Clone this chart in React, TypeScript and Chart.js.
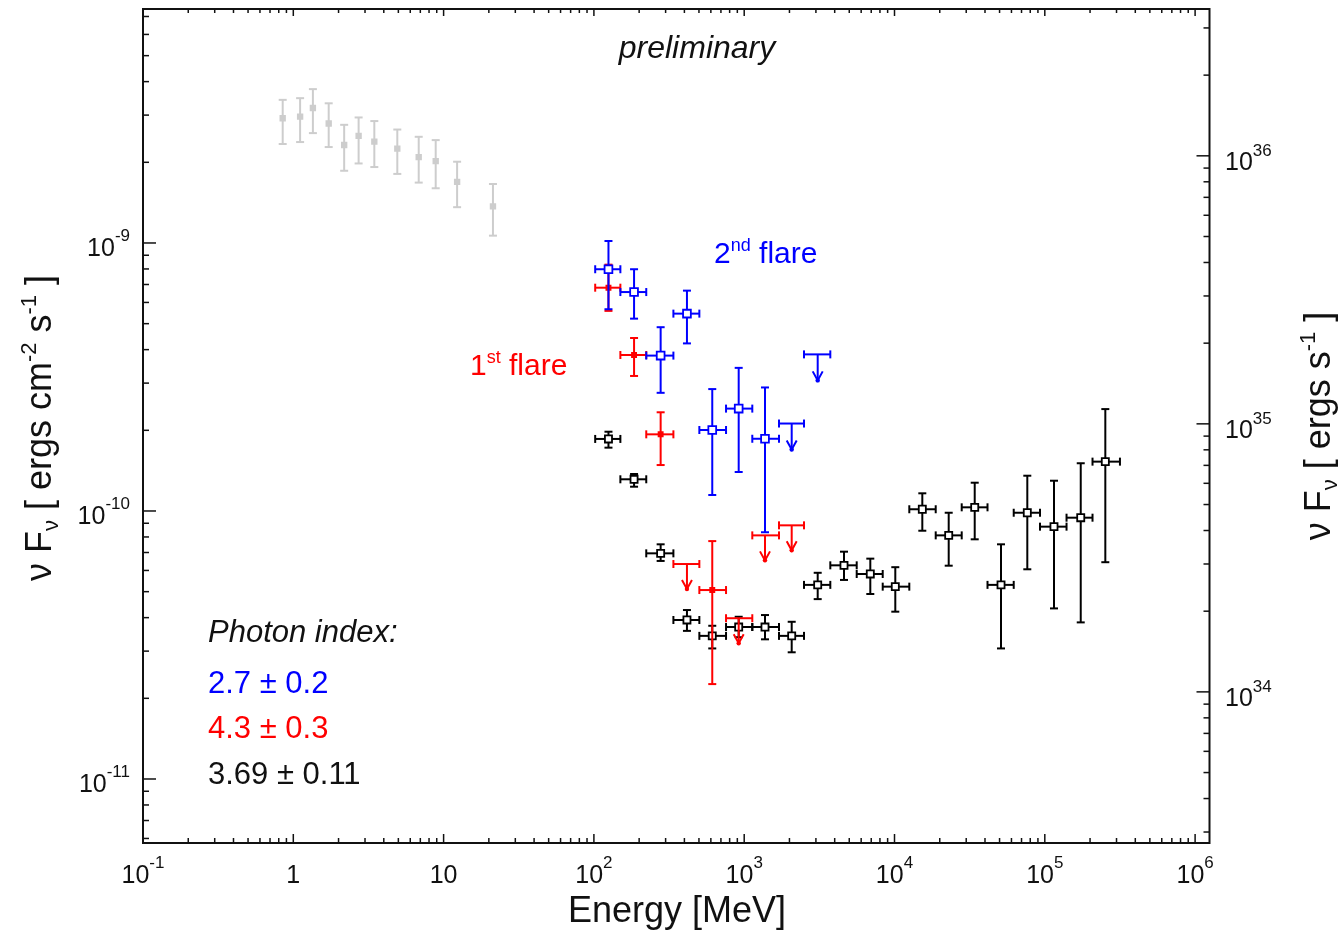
import React, { useEffect, useRef } from 'react';
import { Chart, registerables } from 'chart.js';

Chart.register(...registerables);

const FONT = "'Liberation Sans', Arial, Helvetica, sans-serif";

// ---- axis ranges (values) ----
const xRange = [0.1, 1.2467e6];
const yRange = [5.77e-12, 7.465e-9];
const y2Range = [2.73e33, 3.53e36];

// ---- tick label exponents ----
const xTickExps = [-1, 0, 1, 2, 3, 4, 5, 6];
const yTickExps = [-11, -10, -9];
const y2TickExps = [34, 35, 36];

// ---- energy bins (MeV) ----
const binEdges = [102, 150, 223, 338, 503, 757, 1132, 1704, 2500, 3740, 5604, 8347, 12544, 18800, 28000, 41570, 62110, 92920, 139500, 207700, 316200];
const binCenters = [125, 185, 278, 416, 613, 919, 1375, 2070, 3083, 4613, 6902, 10122, 15311, 22940, 34170, 51130, 76480, 115100, 173400, 252700];

// ---- low-energy (gray) points ----
const grayEnergy = [0.85, 1.11, 1.35, 1.72, 2.18, 2.72, 3.46, 4.92, 6.83, 8.86, 12.3, 21.3];
const grayFlux = [2.92e-9, 2.96e-9, 3.19e-9, 2.79e-9, 2.32e-9, 2.51e-9, 2.39e-9, 2.25e-9, 2.09e-9, 2.02e-9, 1.69e-9, 1.37e-9];
const grayHi = [3.42e-9, 3.47e-9, 3.75e-9, 3.32e-9, 2.76e-9, 2.94e-9, 2.85e-9, 2.65e-9, 2.49e-9, 2.42e-9, 2.01e-9, 1.66e-9];
const grayLo = [2.34e-9, 2.38e-9, 2.57e-9, 2.28e-9, 1.86e-9, 1.98e-9, 1.92e-9, 1.81e-9, 1.68e-9, 1.6e-9, 1.36e-9, 1.065e-9];

// ---- quiescent (black) points ----
const blackBins = [0, 1, 2, 3, 4, 5, 6, 7, 8, 9, 10, 11, 12, 13, 14, 15, 16, 17, 18, 19];
const blackFlux = [1.857e-10, 1.313e-10, 6.95e-11, 3.92e-11, 3.42e-11, 3.69e-11, 3.69e-11, 3.42e-11, 5.3e-11, 6.27e-11, 5.82e-11, 5.22e-11, 1.015e-10, 8.11e-11, 1.032e-10, 5.3e-11, 9.85e-11, 8.74e-11, 9.44e-11, 1.528e-10];
const blackHi = [1.976e-10, 1.374e-10, 7.51e-11, 4.27e-11, 3.73e-11, 4.03e-11, 4.09e-11, 3.86e-11, 5.88e-11, 7.05e-11, 6.64e-11, 6.17e-11, 1.164e-10, 9.85e-11, 1.275e-10, 7.51e-11, 1.354e-10, 1.297e-10, 1.507e-10, 2.4e-10];
const blackLo = [1.723e-10, 1.232e-10, 6.51e-11, 3.57e-11, 3.07e-11, 3.38e-11, 3.32e-11, 2.97e-11, 4.69e-11, 5.53e-11, 4.9e-11, 4.21e-11, 8.44e-11, 6.25e-11, 7.84e-11, 3.07e-11, 6.06e-11, 4.33e-11, 3.84e-11, 6.44e-11];

// ---- 2nd flare (blue) ----
const blueBins = [0, 1, 2, 3, 4, 5, 6];
const blueFlux = [7.98e-10, 6.56e-10, 3.8e-10, 5.45e-10, 2.005e-10, 2.41e-10, 1.86e-10];
const blueHi = [1.017e-9, 7.98e-10, 4.85e-10, 6.64e-10, 2.85e-10, 3.42e-10, 2.89e-10];
const blueLo = [5.66e-10, 5.22e-10, 2.76e-10, 4.22e-10, 1.147e-10, 1.398e-10, 8.33e-11];
const blueULBins = [7, 8];
const blueUL = [2.12e-10, 3.84e-10];

// ---- 1st flare (red) ----
const redBins = [0, 1, 2, 4];
const redFlux = [6.81e-10, 3.82e-10, 1.932e-10, 5.07e-11];
const redHi = [8.3e-10, 4.42e-10, 2.335e-10, 7.72e-11];
const redLo = [5.58e-10, 3.19e-10, 1.484e-10, 2.26e-11];
const redULBins = [3, 5, 6, 7];
const redUL = [6.34e-11, 3.98e-11, 8.11e-11, 8.84e-11];

const BLUE = '#0000ff';
const RED = '#ff0000';
const GRAY = '#cdcdcd';
const BLACK = '#000000';

function binned(bins: number[], flux: number[], lo?: number[], hi?: number[]) {
  return bins.map((b, i) => ({
    x: binCenters[b],
    y: flux[i],
    xLo: binEdges[b],
    xHi: binEdges[b + 1],
    yLo: lo ? lo[i] : undefined,
    yHi: hi ? hi[i] : undefined,
  }));
}

type Seg = { t: string; size: number; rise?: number; italic?: boolean };

function segFont(s: Seg) {
  return `${s.italic ? 'italic ' : ''}${s.size}px ${FONT}`;
}
function richWidth(ctx: CanvasRenderingContext2D, segs: Seg[]) {
  let w = 0;
  for (const s of segs) {
    ctx.font = segFont(s);
    w += ctx.measureText(s.t).width;
  }
  return w;
}
function drawRich(ctx: CanvasRenderingContext2D, segs: Seg[], x: number, y: number, align: 'left' | 'center' | 'right', color: string) {
  const w = richWidth(ctx, segs);
  let cx = align === 'left' ? x : align === 'center' ? x - w / 2 : x - w;
  ctx.fillStyle = color;
  ctx.textAlign = 'left';
  ctx.textBaseline = 'alphabetic';
  for (const s of segs) {
    ctx.font = segFont(s);
    ctx.fillText(s.t, cx, y - (s.rise || 0));
    cx += ctx.measureText(s.t).width;
  }
}

function logTicks(min: number, max: number) {
  const out: { v: number; major: boolean }[] = [];
  const e0 = Math.floor(Math.log10(min));
  const e1 = Math.ceil(Math.log10(max));
  for (let e = e0; e <= e1; e++) {
    for (let m = 1; m <= 9; m++) {
      const v = m * Math.pow(10, e);
      if (v >= min * 0.9999 && v <= max * 1.0001) out.push({ v, major: m === 1 });
    }
  }
  return out;
}

const errorBarPlugin = {
  id: 'errorBars',
  beforeDatasetDraw(chart: any, args: any) {
    const ds: any = chart.data.datasets[args.index];
    if (!ds.errColor) return;
    const ctx: CanvasRenderingContext2D = chart.ctx;
    const xs = chart.scales.x;
    const ys = chart.scales.y;
    ctx.save();
    ctx.strokeStyle = ds.errColor;
    ctx.fillStyle = ds.errColor;
    ctx.lineWidth = ds.errWidth;
    ctx.lineCap = 'butt';
    const c = ds.capHalf;
    const line = (x1: number, y1: number, x2: number, y2: number) => {
      ctx.beginPath();
      ctx.moveTo(x1, y1);
      ctx.lineTo(x2, y2);
      ctx.stroke();
    };
    for (const d of ds.data) {
      const px = xs.getPixelForValue(d.x);
      const py = ys.getPixelForValue(d.y);
      if (d.xLo != null) {
        const l = xs.getPixelForValue(d.xLo);
        const r = xs.getPixelForValue(d.xHi);
        line(l, py, r, py);
        line(l, py - c, l, py + c);
        line(r, py - c, r, py + c);
      }
      if (ds.upperLimit) {
        const tip = py + ds.arrowLen;
        line(px, py, px, tip);
        ctx.beginPath();
        ctx.moveTo(px - 5, tip - 9);
        ctx.lineTo(px, tip);
        ctx.lineTo(px + 5, tip - 9);
        ctx.stroke();
        ctx.beginPath();
        ctx.arc(px, tip, 2.2, 0, Math.PI * 2);
        ctx.fill();
      } else if (d.yLo != null) {
        const t = ys.getPixelForValue(d.yHi);
        const b = ys.getPixelForValue(d.yLo);
        line(px, t, px, b);
        line(px - c, t, px + c, t);
        line(px - c, b, px + c, b);
      }
    }
    ctx.restore();
  },
};

const axesPlugin = {
  id: 'customAxes',
  afterDraw(chart: any) {
    const ctx: CanvasRenderingContext2D = chart.ctx;
    const { left, right, top, bottom } = chart.chartArea;
    const xs = chart.scales.x;
    const ys = chart.scales.y;
    const y2 = chart.scales.y2;
    ctx.save();
    ctx.strokeStyle = '#111';
    ctx.lineWidth = 1.5;
    const line = (x1: number, y1: number, x2: number, y2_: number) => {
      ctx.beginPath();
      ctx.moveTo(x1, y1);
      ctx.lineTo(x2, y2_);
      ctx.stroke();
    };
    for (const t of logTicks(xRange[0], xRange[1])) {
      const p = xs.getPixelForValue(t.v);
      line(p, bottom, p, bottom - (t.major ? 9 : 5));
      line(p, top, p, top + (t.major ? 7 : 4));
    }
    for (const t of logTicks(yRange[0], yRange[1])) {
      const p = ys.getPixelForValue(t.v);
      line(left, p, left + (t.major ? 13 : 6), p);
    }
    for (const t of logTicks(y2Range[0], y2Range[1])) {
      const p = y2.getPixelForValue(t.v);
      line(right, p, right - (t.major ? 13 : 6), p);
    }
    ctx.lineWidth = 2;
    ctx.strokeRect(left, top, right - left, bottom - top);

    const BASE = 25;
    const SUP = 17;
    const TXT = '#111';
    for (const e of xTickExps) {
      const p = xs.getPixelForValue(Math.pow(10, e));
      if (e === 0 || e === 1) {
        drawRich(ctx, [{ t: e === 0 ? '1' : '10', size: BASE }], p, 883, 'center', TXT);
      } else {
        drawRich(ctx, [{ t: '10', size: BASE }, { t: String(e), size: SUP, rise: 15 }], p, 883, 'center', TXT);
      }
    }
    for (const e of yTickExps) {
      const p = ys.getPixelForValue(Math.pow(10, e));
      drawRich(ctx, [{ t: '10', size: BASE }, { t: String(e), size: SUP, rise: 15 }], 130, p + 13, 'right', TXT);
    }
    for (const e of y2TickExps) {
      const p = y2.getPixelForValue(Math.pow(10, e));
      drawRich(ctx, [{ t: '10', size: BASE }, { t: String(e), size: SUP, rise: 14 }], 1225, p + 14, 'left', TXT);
    }

    drawRich(ctx, [{ t: 'Energy [MeV]', size: 36 }], 677, 922, 'center', TXT);

    ctx.save();
    ctx.translate(51, 428);
    ctx.rotate(-Math.PI / 2);
    drawRich(ctx, [
      { t: 'ν F', size: 36 },
      { t: 'ν', size: 22, rise: -7 },
      { t: ' [ ergs cm', size: 36 },
      { t: '-2', size: 22, rise: 15 },
      { t: ' s', size: 36 },
      { t: '-1', size: 22, rise: 15 },
      { t: ' ]', size: 36 },
    ], 0, 0, 'center', TXT);
    ctx.restore();

    ctx.save();
    ctx.translate(1330, 426);
    ctx.rotate(-Math.PI / 2);
    drawRich(ctx, [
      { t: 'ν F', size: 36 },
      { t: 'ν', size: 22, rise: -7 },
      { t: ' [ ergs s', size: 36 },
      { t: '-1', size: 22, rise: 15 },
      { t: ' ]', size: 36 },
    ], 0, 0, 'center', TXT);
    ctx.restore();

    drawRich(ctx, [{ t: 'preliminary', size: 32, italic: true }], 697, 58, 'center', TXT);
    drawRich(ctx, [{ t: '2', size: 30 }, { t: 'nd', size: 18, rise: 12 }, { t: ' flare', size: 30 }], 714, 263, 'left', BLUE);
    drawRich(ctx, [{ t: '1', size: 30 }, { t: 'st', size: 18, rise: 12 }, { t: ' flare', size: 30 }], 470, 375, 'left', RED);
    drawRich(ctx, [{ t: 'Photon index:', size: 31, italic: true }], 208, 642, 'left', TXT);
    drawRich(ctx, [{ t: '2.7 ± 0.2', size: 31 }], 208, 693, 'left', BLUE);
    drawRich(ctx, [{ t: '4.3 ± 0.3', size: 31 }], 208, 738, 'left', RED);
    drawRich(ctx, [{ t: '3.69 ± 0.11', size: 31 }], 208, 784, 'left', TXT);
    ctx.restore();
  },
};

export default function App() {
  const ref = useRef<HTMLCanvasElement | null>(null);
  useEffect(() => {
    if (!ref.current) return;
    const grayData = grayEnergy.map((e, i) => ({ x: e, y: grayFlux[i], yLo: grayLo[i], yHi: grayHi[i] }));
    const chart = new Chart(ref.current, {
      type: 'scatter',
      data: {
        datasets: [
          {
            label: '2nd flare',
            data: binned(blueBins, blueFlux, blueLo, blueHi),
            pointStyle: 'rect',
            pointRadius: 5.5,
            pointHoverRadius: 5.5,
            backgroundColor: '#ffffff',
            borderColor: BLUE,
            borderWidth: 1.8,
            order: 0,
            errColor: BLUE,
            errWidth: 2,
            capHalf: 4,
          } as any,
          {
            label: '2nd flare UL',
            data: binned(blueULBins, blueUL),
            pointRadius: 0,
            order: 1,
            errColor: BLUE,
            errWidth: 2,
            capHalf: 4,
            upperLimit: true,
            arrowLen: 26,
          } as any,
          {
            label: '1st flare',
            data: binned(redBins, redFlux, redLo, redHi),
            pointStyle: 'rect',
            pointRadius: 4.2,
            pointHoverRadius: 4.2,
            backgroundColor: RED,
            borderColor: RED,
            borderWidth: 0,
            order: 2,
            errColor: RED,
            errWidth: 2,
            capHalf: 4,
          } as any,
          {
            label: '1st flare UL',
            data: binned(redULBins, redUL),
            pointRadius: 0,
            order: 3,
            errColor: RED,
            errWidth: 2,
            capHalf: 4,
            upperLimit: true,
            arrowLen: 25,
          } as any,
          {
            label: 'quiescent',
            data: binned(blackBins, blackFlux, blackLo, blackHi),
            pointStyle: 'rect',
            pointRadius: 5,
            pointHoverRadius: 5,
            backgroundColor: '#ffffff',
            borderColor: BLACK,
            borderWidth: 1.8,
            order: 4,
            errColor: BLACK,
            errWidth: 2,
            capHalf: 4,
          } as any,
          {
            label: 'low energy',
            data: grayData,
            pointStyle: 'rect',
            pointRadius: 4.5,
            pointHoverRadius: 4.5,
            backgroundColor: GRAY,
            borderColor: GRAY,
            borderWidth: 0,
            order: 5,
            errColor: GRAY,
            errWidth: 2,
            capHalf: 4,
          } as any,
        ],
      },
      options: {
        animation: false,
        responsive: false,
        devicePixelRatio: 1,
        events: [],
        layout: { padding: { left: 143, top: 9, right: 128.5, bottom: 91 } },
        scales: {
          x: { type: 'logarithmic', min: xRange[0], max: xRange[1], display: false },
          y: { type: 'logarithmic', min: yRange[0], max: yRange[1], display: false },
          y2: { type: 'logarithmic', position: 'right', min: y2Range[0], max: y2Range[1], display: false },
        },
        plugins: { legend: { display: false }, tooltip: { enabled: false } },
      } as any,
      plugins: [errorBarPlugin, axesPlugin],
    });
    return () => chart.destroy();
  }, []);
  return (
    <div style={{ position: 'fixed', left: 0, top: 0, width: 1338, height: 934, background: '#fff' }}>
      <canvas ref={ref} width={1338} height={934} style={{ display: 'block' }} />
    </div>
  );
}
